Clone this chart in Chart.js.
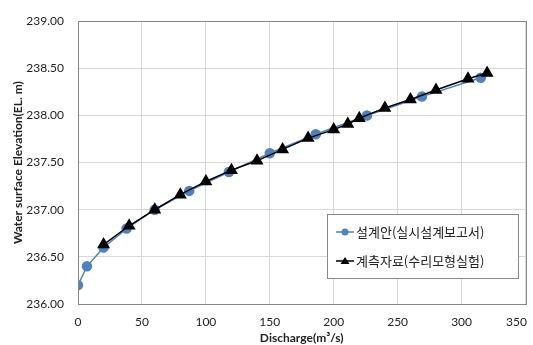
<!DOCTYPE html>
<html>
<head>
<meta charset="utf-8">
<script src="https://cdn.jsdelivr.net/npm/chart.js@4"></script>
<style>
  html, body { margin: 0; padding: 0; background: #fff; }
  #wrap { width: 533px; height: 345px; position: relative; }
</style>
</head>
<body>
<div id="wrap"><canvas id="c"></canvas></div>
<script>
// 설계안 vs 계측자료 수위-유량 비교
const designQ = [0, 7, 20, 38, 60, 87, 118, 150, 186, 226, 269, 315];
const designH = [236.2, 236.4, 236.6, 236.8, 237.0, 237.2, 237.4, 237.6, 237.8, 238.0, 238.2, 238.4];
const measQ = [20, 40, 60, 80, 100, 120, 140, 160, 180, 200, 211, 220, 240, 260, 280, 305, 320];
const measH = [236.63, 236.83, 237.0, 237.16, 237.3, 237.42, 237.52, 237.64, 237.76, 237.85, 237.91, 237.97, 238.08, 238.17, 238.27, 238.39, 238.45];
const seriesNames = ["설계안(실시설계보고서)", "계측자료(수리모형실험)"];
const xTitle = "Discharge(m³/s)";
const yTitle = "Water surface Elevation(EL. m)";

const FONT = "Lato, 'Noto Sans CJK KR', sans-serif";
const BLUE = "#4f81bd";

const pts = (xs, ys) => xs.map((x, i) => ({ x, y: ys[i] }));

// 플롯 안쪽 테두리 + 범례 박스
const boxLegend = {
  id: "boxLegend",
  afterDraw(chart) {
    const { ctx, chartArea: a } = chart;
    ctx.save();
    ctx.strokeStyle = "#868686";
    ctx.lineWidth = 1;
    ctx.strokeRect(Math.round(a.left) + 0.5, Math.round(a.top) + 0.5,
      Math.round(a.right - a.left), Math.round(a.bottom - a.top));

    const x0 = 327, y0 = 214, w = 191, h = 64;
    ctx.fillStyle = "#fff";
    ctx.fillRect(x0, y0, w, h);
    ctx.strokeStyle = "#888";
    ctx.strokeRect(x0 + 0.5, y0 + 0.5, w, h);
    ctx.font = "13px 'Noto Sans CJK KR', sans-serif";
    ctx.textBaseline = "middle";
    chart.data.datasets.forEach((ds, i) => {
      const cy = y0 + 18 + i * 29;
      ctx.strokeStyle = ds.borderColor;
      ctx.lineWidth = ds.borderWidth;
      ctx.beginPath();
      ctx.moveTo(x0 + 9, cy); ctx.lineTo(x0 + 27, cy); ctx.stroke();
      ctx.fillStyle = ds.pointBackgroundColor;
      ctx.beginPath();
      if (ds.pointStyle === "triangle") {
        ctx.moveTo(x0 + 18, cy - 4); ctx.lineTo(x0 + 22.5, cy + 3); ctx.lineTo(x0 + 13.5, cy + 3);
        ctx.closePath();
      } else {
        ctx.arc(x0 + 18, cy, 3.5, 0, Math.PI * 2);
      }
      ctx.fill();
      ctx.fillStyle = "#222";
      ctx.fillText(ds.label, x0 + 29, cy);
    });
    ctx.restore();
  }
};

new Chart(document.getElementById("c"), {
  type: "scatter",
  data: {
    datasets: [
      {
        label: seriesNames[0],
        data: pts(designQ, designH),
        showLine: true,
        borderColor: BLUE,
        borderWidth: 1.5,
        pointBackgroundColor: BLUE,
        pointBorderColor: BLUE,
        pointStyle: "circle",
        pointRadius: 4.5,
        pointHoverRadius: 4.5,
        tension: 0,
        order: 2,
      },
      {
        label: seriesNames[1],
        data: pts(measQ, measH),
        showLine: true,
        borderColor: "#000",
        borderWidth: 1.5,
        pointBackgroundColor: "#000",
        pointBorderColor: "#000",
        pointStyle: "triangle",
        pointRadius: 6,
        pointHoverRadius: 6,
        tension: 0,
        order: 1,
      },
    ],
  },
  options: {
    responsive: true, maintainAspectRatio: false, animation: false,
    layout: { padding: { top: 16, right: 0, left: 11, bottom: 0 } },
    plugins: { legend: { display: false }, tooltip: { enabled: false } },
    scales: {
      x: {
        type: "linear", min: 0, max: 350,
        ticks: { stepSize: 50, color: "#222", font: { family: FONT, size: 12 }, padding: 11,
                 // 마지막 눈금은 엑셀처럼 안쪽으로 당김
                 callback: (v) => v === 350 ? v + "\u2002\u2002\u2002" : v },
        grid: { color: "#d9d9d9", drawTicks: false },
        border: { color: "#868686" },
        title: { display: true, text: xTitle, color: "#222",
                 font: { family: FONT, size: 12, weight: "bold" }, padding: { top: 0, bottom: 0 } },
        afterFit: (s) => { s.height = 41; s.paddingRight = 0; },
      },
      y: {
        min: 236, max: 239,
        ticks: { stepSize: 0.5, color: "#222", font: { family: FONT, size: 12 }, padding: 14,
                 callback: (v) => v.toFixed(2) },
        grid: { color: "#d9d9d9", drawTicks: false },
        border: { color: "#868686" },
        title: { display: true, text: yTitle, color: "#222",
                 font: { family: FONT, size: 12, weight: "bold" }, padding: { top: 0, bottom: 0 } },
        afterFit: (s) => { s.width = 67; },
      },
    },
  },
  plugins: [boxLegend],
});
</script>
</body>
</html>
